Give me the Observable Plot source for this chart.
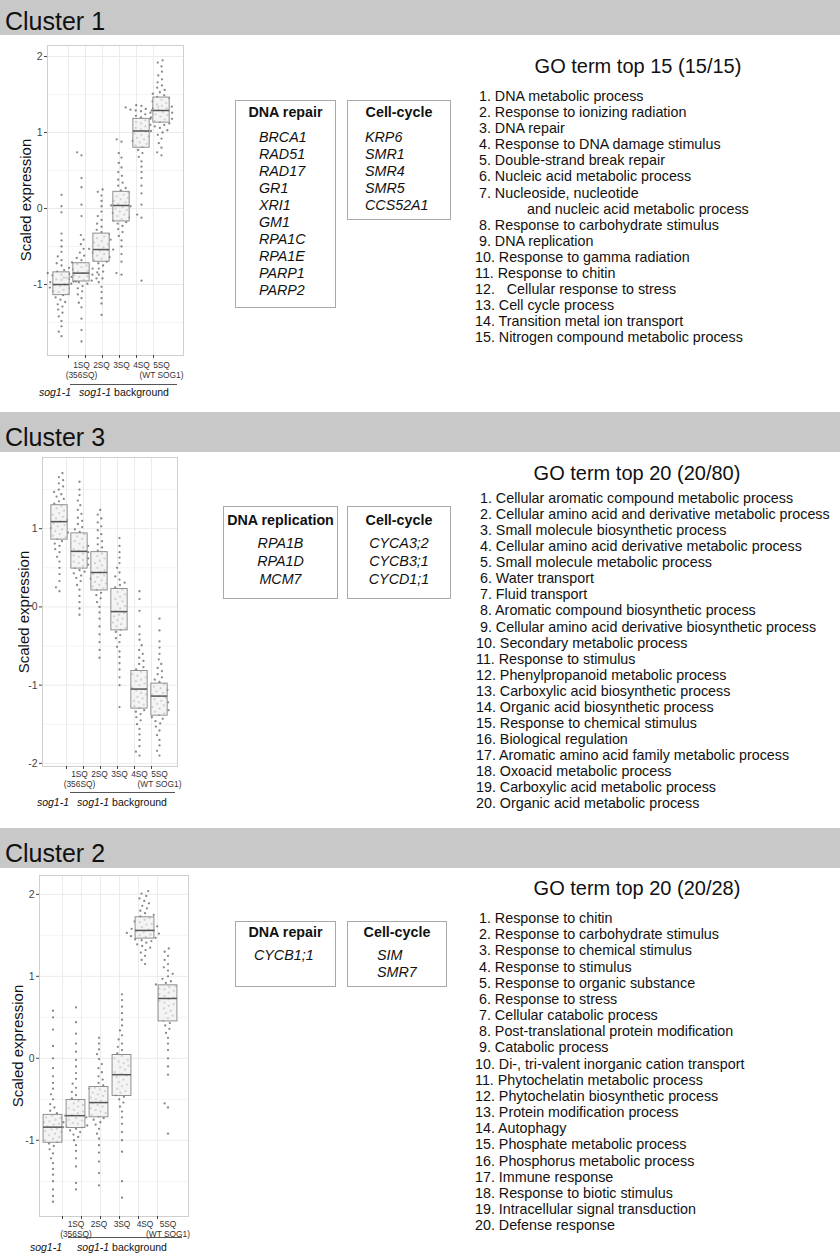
<!DOCTYPE html>
<html><head><meta charset="utf-8">
<script src="https://cdn.jsdelivr.net/npm/d3@7"></script>
<script src="https://cdn.jsdelivr.net/npm/@observablehq/plot@0.6"></script>
<style>
body{margin:0;background:#fff;font-family:"Liberation Sans",Arial,sans-serif;color:#111;}
#page{position:relative;width:840px;height:1260px;overflow:hidden;}
.hbar{position:absolute;left:0;width:840px;background:#c8c8c8;}
.hbar span{position:absolute;left:5px;font-size:25px;line-height:25px;color:#111;}
.abs{position:absolute;white-space:pre;}
.gbox{position:absolute;border:1px solid #a9a9a9;box-sizing:border-box;background:#fff;}
.ov{position:absolute;left:0;overflow:visible;}
</style></head>
<body><div id="page"></div>
<script>
// ---------------- data ----------------
const groups = ["sog1-1", "1SQ", "2SQ", "3SQ", "4SQ", "5SQ"];
const tickLabels = ["", "1SQ\n(356SQ)", "2SQ", "3SQ", "4SQ", "5SQ\n(WT SOG1)"];
const yTicks = [-2, -1, 0, 1, 2];
const yMinorTicks = [-1.5, -0.5, 0.5, 1.5];

// Cluster 1 box statistics (whisker low, Q1, median, Q3, whisker high)
const c1Low = [-1.55, -1.30, -1.18, -0.70, 0.25, 0.71];
const c1Q1 = [-1.14, -0.96, -0.70, -0.17, 0.80, 1.13];
const c1Median = [-1.00, -0.85, -0.54, 0.04, 1.02, 1.29];
const c1Q3 = [-0.84, -0.72, -0.33, 0.22, 1.18, 1.46];
const c1High = [-0.45, -0.35, 0.20, 0.75, 1.35, 1.85];
const c1Points = [
  [-1.68,-1.62,-1.55,-1.48,-1.42,-1.37,-1.33,-1.29,-1.26,-1.23,-1.2,-1.17,-1.14,-1.12,-1.1,-1.09,-1.07,-1.05,-1.04,-1.02,-1.01,-1.0,-0.99,-0.97,-0.96,-0.94,-0.93,-0.91,-0.9,-0.88,-0.87,-0.85,-0.83,-0.81,-0.78,-0.75,-0.72,-0.68,-0.63,-0.57,-0.5,-0.42,-0.33,-0.05,0.03,0.18],
  [-1.75,-1.6,-1.45,-1.3,-1.24,-1.18,-1.13,-1.09,-1.05,-1.02,-0.99,-0.97,-0.96,-0.95,-0.94,-0.93,-0.92,-0.91,-0.9,-0.89,-0.88,-0.87,-0.86,-0.85,-0.84,-0.83,-0.82,-0.8,-0.79,-0.77,-0.75,-0.73,-0.71,-0.68,-0.65,-0.62,-0.58,-0.53,-0.47,-0.41,-0.35,-0.1,0.05,0.28,0.4,0.7,0.74],
  [-1.4,-1.25,-1.18,-1.1,-1.03,-0.97,-0.92,-0.87,-0.83,-0.79,-0.75,-0.72,-0.7,-0.68,-0.66,-0.64,-0.62,-0.6,-0.58,-0.56,-0.55,-0.54,-0.53,-0.51,-0.49,-0.47,-0.45,-0.43,-0.41,-0.39,-0.37,-0.34,-0.31,-0.28,-0.24,-0.2,-0.15,-0.1,-0.04,0.03,0.1,0.17,0.22,0.25],
  [-0.87,-0.85,-0.7,-0.6,-0.5,-0.42,-0.36,-0.31,-0.27,-0.23,-0.2,-0.18,-0.16,-0.14,-0.12,-0.1,-0.08,-0.06,-0.04,-0.02,0.0,0.02,0.03,0.04,0.06,0.08,0.1,0.12,0.14,0.16,0.18,0.21,0.24,0.27,0.3,0.34,0.38,0.43,0.48,0.54,0.6,0.67,0.73,0.88,0.91],
  [-0.95,-0.12,-0.08,0.05,0.2,0.3,0.4,0.48,0.55,0.62,0.68,0.73,0.77,0.81,0.83,0.85,0.87,0.89,0.91,0.93,0.95,0.97,0.99,1.01,1.02,1.04,1.06,1.08,1.1,1.12,1.14,1.16,1.18,1.2,1.22,1.24,1.26,1.28,1.29,1.3,1.31,1.32,1.33,1.34,1.35,1.36],
  [0.7,0.74,0.8,0.86,0.92,0.97,1.0,1.03,1.06,1.08,1.1,1.12,1.14,1.15,1.17,1.18,1.2,1.21,1.23,1.24,1.26,1.27,1.29,1.3,1.32,1.34,1.35,1.37,1.39,1.41,1.43,1.45,1.47,1.49,1.51,1.53,1.56,1.59,1.62,1.66,1.7,1.75,1.8,1.87,1.92,1.95]
];

// Cluster 3
const c3Low = [0.22, -0.06, -0.49, -0.89, -1.85, -1.87];
const c3Q1 = [0.86, 0.49, 0.21, -0.30, -1.30, -1.39];
const c3Median = [1.09, 0.71, 0.44, -0.06, -1.05, -1.14];
const c3Q3 = [1.30, 0.94, 0.70, 0.23, -0.82, -0.98];
const c3High = [1.70, 1.59, 1.26, 0.89, -0.35, -0.40];
const c3Points = [
  [0.2,0.25,0.33,0.42,0.5,0.58,0.64,0.7,0.74,0.78,0.81,0.84,0.87,0.89,0.91,0.93,0.95,0.97,0.99,1.01,1.03,1.05,1.07,1.09,1.11,1.13,1.15,1.18,1.2,1.23,1.26,1.29,1.32,1.35,1.38,1.41,1.44,1.47,1.5,1.54,1.58,1.62,1.66,1.71],
  [-0.1,-0.02,0.06,0.14,0.22,0.28,0.33,0.37,0.4,0.43,0.45,0.47,0.5,0.52,0.54,0.56,0.58,0.6,0.62,0.64,0.66,0.68,0.7,0.72,0.74,0.76,0.78,0.81,0.84,0.87,0.9,0.93,0.96,0.99,1.02,1.06,1.1,1.14,1.19,1.24,1.3,1.36,1.43,1.5,1.6],
  [-0.65,-0.55,-0.45,-0.35,-0.25,-0.15,-0.07,0.0,0.06,0.11,0.15,0.18,0.22,0.24,0.26,0.28,0.3,0.32,0.34,0.36,0.38,0.4,0.42,0.44,0.47,0.5,0.53,0.56,0.59,0.62,0.65,0.68,0.72,0.76,0.8,0.84,0.88,0.93,0.98,1.03,1.08,1.13,1.18,1.24],
  [-1.28,-1.0,-0.9,-0.8,-0.72,-0.64,-0.57,-0.51,-0.45,-0.4,-0.36,-0.32,-0.29,-0.27,-0.25,-0.22,-0.2,-0.17,-0.15,-0.12,-0.1,-0.08,-0.05,-0.02,0.01,0.04,0.07,0.1,0.13,0.16,0.19,0.22,0.25,0.28,0.31,0.35,0.39,0.44,0.5,0.56,0.63,0.7,0.78,0.88],
  [-1.9,-1.85,-1.78,-1.7,-1.63,-1.56,-1.5,-1.45,-1.41,-1.37,-1.34,-1.32,-1.29,-1.27,-1.25,-1.22,-1.2,-1.17,-1.15,-1.12,-1.1,-1.07,-1.05,-1.03,-1.0,-0.98,-0.95,-0.93,-0.9,-0.88,-0.86,-0.83,-0.8,-0.77,-0.73,-0.69,-0.65,-0.6,-0.55,-0.49,-0.42,-0.35,-0.25,-0.05,0.1,0.2],
  [-1.9,-1.84,-1.77,-1.7,-1.64,-1.58,-1.53,-1.49,-1.46,-1.43,-1.41,-1.38,-1.36,-1.34,-1.32,-1.3,-1.28,-1.26,-1.24,-1.22,-1.2,-1.18,-1.16,-1.14,-1.12,-1.1,-1.08,-1.06,-1.04,-1.02,-0.99,-0.96,-0.93,-0.9,-0.86,-0.82,-0.78,-0.73,-0.67,-0.6,-0.52,-0.44,-0.3,-0.15]
];

// Cluster 2
const c2Low = [-1.50, -1.32, -1.26, -1.14, 1.16, -0.16];
const c2Q1 = [-1.03, -0.85, -0.72, -0.46, 1.46, 0.45];
const c2Median = [-0.84, -0.70, -0.54, -0.20, 1.56, 0.73];
const c2Q3 = [-0.69, -0.51, -0.35, 0.04, 1.72, 0.89];
const c2High = [-0.20, 0.00, 0.20, 0.75, 2.03, 1.34];
const c2Points = [
  [-1.75,-1.68,-1.6,-1.5,-1.42,-1.35,-1.28,-1.22,-1.16,-1.11,-1.07,-1.04,-1.02,-1.0,-0.98,-0.96,-0.94,-0.92,-0.9,-0.89,-0.87,-0.86,-0.84,-0.83,-0.81,-0.8,-0.78,-0.77,-0.75,-0.73,-0.72,-0.7,-0.67,-0.64,-0.6,-0.56,-0.5,-0.44,-0.37,-0.3,-0.22,-0.12,0.0,0.15,0.35,0.5,0.58],
  [-1.6,-1.52,-1.32,-1.22,-1.13,-1.06,-1.0,-0.96,-0.93,-0.9,-0.88,-0.86,-0.84,-0.83,-0.82,-0.8,-0.79,-0.78,-0.76,-0.75,-0.73,-0.72,-0.7,-0.69,-0.67,-0.65,-0.63,-0.61,-0.59,-0.57,-0.55,-0.52,-0.49,-0.45,-0.41,-0.36,-0.31,-0.25,-0.18,-0.1,-0.02,0.08,0.18,0.3,0.44,0.62],
  [-1.55,-1.4,-1.26,-1.15,-1.06,-0.98,-0.92,-0.86,-0.81,-0.78,-0.75,-0.73,-0.71,-0.69,-0.67,-0.65,-0.63,-0.61,-0.59,-0.57,-0.55,-0.54,-0.52,-0.5,-0.48,-0.46,-0.44,-0.42,-0.4,-0.38,-0.37,-0.36,-0.33,-0.3,-0.26,-0.22,-0.17,-0.12,-0.07,-0.01,0.05,0.11,0.18,0.25],
  [-1.7,-1.5,-1.14,-1.0,-0.9,-0.8,-0.72,-0.65,-0.59,-0.54,-0.5,-0.47,-0.45,-0.42,-0.4,-0.37,-0.34,-0.32,-0.29,-0.26,-0.23,-0.21,-0.19,-0.17,-0.14,-0.11,-0.09,-0.06,-0.04,-0.02,0.0,0.03,0.06,0.1,0.14,0.18,0.23,0.28,0.34,0.4,0.47,0.55,0.63,0.71,0.78],
  [1.15,1.2,1.25,1.29,1.32,1.35,1.37,1.39,1.41,1.43,1.44,1.45,1.47,1.48,1.49,1.5,1.51,1.52,1.53,1.54,1.55,1.56,1.57,1.58,1.6,1.61,1.63,1.64,1.66,1.67,1.69,1.71,1.73,1.75,1.77,1.8,1.83,1.86,1.89,1.92,1.95,1.98,2.01,2.04],
  [-0.92,-0.6,-0.55,-0.2,-0.1,0.0,0.1,0.18,0.25,0.31,0.36,0.4,0.43,0.46,0.49,0.52,0.55,0.58,0.61,0.64,0.66,0.68,0.7,0.72,0.74,0.76,0.78,0.8,0.82,0.84,0.85,0.87,0.88,0.9,0.92,0.94,0.97,1.0,1.03,1.07,1.11,1.15,1.2,1.25,1.3,1.34]
];

// Gene lists
const c1RepairGenes = ["BRCA1", "RAD51", "RAD17", "GR1", "XRI1", "GM1", "RPA1C", "RPA1E", "PARP1", "PARP2"];
const c1CycleGenes = ["KRP6", "SMR1", "SMR4", "SMR5", "CCS52A1"];
const c3ReplicationGenes = ["RPA1B", "RPA1D", "MCM7"];
const c3CycleGenes = ["CYCA3;2", "CYCB3;1", "CYCD1;1"];
const c2RepairGenes = ["CYCB1;1"];
const c2CycleGenes = ["SIM", "SMR7"];

// GO terms
const go1Title = "GO term top 15 (15/15)";
const go1Terms = [" 1. DNA metabolic process", " 2. Response to ionizing radiation", " 3. DNA repair",
  " 4. Response to DNA damage stimulus", " 5. Double-strand break repair", " 6. Nucleic acid metabolic process",
  " 7. Nucleoside, nucleotide\nand nucleic acid metabolic process", " 8. Response to carbohydrate stimulus",
  " 9. DNA replication", "10. Response to gamma radiation", "11. Response to chitin", "12.   Cellular response to stress",
  "13. Cell cycle process", "14. Transition metal ion transport", "15. Nitrogen compound metabolic process"];
const go3Title = "GO term top 20 (20/80)";
const go3Terms = [" 1. Cellular aromatic compound metabolic process", " 2. Cellular amino acid and derivative metabolic process",
  " 3. Small molecule biosynthetic process", " 4. Cellular amino acid derivative metabolic process",
  " 5. Small molecule metabolic process", " 6. Water transport", " 7. Fluid transport",
  " 8. Aromatic compound biosynthetic process", " 9. Cellular amino acid derivative biosynthetic process",
  "10. Secondary metabolic process", "11. Response to stimulus", "12. Phenylpropanoid metabolic process",
  "13. Carboxylic acid biosynthetic process", "14. Organic acid biosynthetic process", "15. Response to chemical stimulus",
  "16. Biological regulation", "17. Aromatic amino acid family metabolic process", "18. Oxoacid metabolic process",
  "19. Carboxylic acid metabolic process", "20. Organic acid metabolic process"];
const go2Title = "GO term top 20 (20/28)";
const go2Terms = [" 1. Response to chitin", " 2. Response to carbohydrate stimulus", " 3. Response to chemical stimulus",
  " 4. Response to stimulus", " 5. Response to organic substance", " 6. Response to stress", " 7. Cellular catabolic process",
  " 8. Post-translational protein modification", " 9. Catabolic process", "10. Di-, tri-valent inorganic cation transport",
  "11. Phytochelatin metabolic process", "12. Phytochelatin biosynthetic process", "13. Protein modification process",
  "14. Autophagy", "15. Phosphate metabolic process", "16. Phosphorus metabolic process", "17. Immune response",
  "18. Response to biotic stimulus", "19. Intracellular signal transduction", "20. Defense response"];

// ---------------- layout ----------------
const page = document.getElementById("page");
const FONT = '"Liberation Sans", Arial, sans-serif';

function el(tag, cls, css, text) {
  const e = document.createElement(tag);
  if (cls) e.className = cls;
  Object.assign(e.style, css || {});
  if (text != null) e.textContent = text;
  return e;
}

function header(top, h, label, base) {
  const b = el("div", "hbar", {top: top + "px", height: h + "px"});
  const s = el("span", null, {top: (base - top - 19) + "px"}, label);
  b.appendChild(s);
  page.appendChild(b);
}

function drawCluster(L, low, q1, med, q3, high, points) {
  const W = 200;
  const H = L.svgBottom - L.svgTop;
  const step = (L.c5 - L.c0) / 5;
  const inset = step * 0.09;
  const stats = groups.map((g, i) => ({g, lo: low[i], q1: q1[i], med: med[i], q3: q3[i], hi: high[i], label: tickLabels[i]}));
  const pts = groups.flatMap((g, i) => points[i].map(v => ({g, v})));
  const common = {
    width: W, height: H,
    marginTop: L.panelTop - L.svgTop, marginBottom: L.svgBottom - L.panelBottom,
    marginLeft: L.left, marginRight: W - L.right,
    style: {fontFamily: FONT, fontSize: "10.5px", background: "transparent", overflow: "visible", color: "#4d4d4d"}
  };
  const yt = yTicks.filter(t => t >= L.yDomain[0] && t <= L.yDomain[1]);
  const base = Plot.plot({
    ...common,
    x: {type: "point", domain: groups, range: [L.c0, L.c5], axis: null},
    y: {domain: L.yDomain, axis: null},
    marks: [
      Plot.gridY(yMinorTicks, {stroke: "#f4f4f4", strokeOpacity: 1}),
      Plot.gridY(yt, {stroke: "#ebebeb", strokeOpacity: 1}),
      Plot.gridX(groups, {stroke: "#ebebeb", strokeOpacity: 1}),
      Plot.frame({stroke: "#cfcfcf"}),
      Plot.axisY(yt, {tickSize: 3, tickPadding: 2, tickFormat: d => String(d), label: null, color: "#444"}),
      Plot.axisX(groups, {tickSize: 3, tickFormat: () => "", label: null, color: "#444"})
    ]
  });
  const over = Plot.plot({
    ...common,
    fx: {domain: groups, range: [L.c0 - step / 2, L.c5 + step / 2], padding: 0, axis: null, label: null},
    y: {domain: L.yDomain, axis: null},
    marks: [
      Plot.dot(pts, Plot.dodgeX({anchor: "middle", padding: 3.0}, {fx: "g", y: "v", r: 1.15, fill: "#333", fillOpacity: 0.58})),
      Plot.ruleX(stats, {fx: "g", y1: "lo", y2: "q1", stroke: "#8a8a8a", strokeWidth: 0.9}),
      Plot.ruleX(stats, {fx: "g", y1: "q3", y2: "hi", stroke: "#8a8a8a", strokeWidth: 0.9}),
      Plot.barY(stats, {fx: "g", y1: "q1", y2: "q3", fill: "#efefef", fillOpacity: 0.7, stroke: "#858585", strokeWidth: 0.9, insetLeft: inset, insetRight: inset}),
      Plot.ruleY(stats, {fx: "g", y: "med", stroke: "#555", strokeWidth: 1.5, insetLeft: inset, insetRight: inset}),
      Plot.text(stats, {fx: "g", text: "label", frameAnchor: "bottom", lineAnchor: "top", dy: L.labelDy, fontSize: 8.4, lineHeight: 1.2, fill: "#333"})
    ]
  });
  for (const svg of [base, over]) {
    svg.classList.add("ov");
    svg.style.top = L.svgTop + "px";
    svg.style.position = "absolute";
    page.appendChild(svg);
  }
  // y axis title
  const yc = (L.panelTop + L.panelBottom) / 2;
  const t = el("div", "abs", {left: (L.titleX - 70) + "px", top: (yc - 9) + "px", width: "140px", textAlign: "center",
    fontSize: "15px", lineHeight: "18px", transform: "rotate(-90deg)", color: "#111"}, "Scaled expression");
  page.appendChild(t);
  // genotype annotations
  page.appendChild(el("div", "abs", {left: (L.sogX - 40) + "px", top: (L.sogY - 6) + "px", width: "80px", textAlign: "center",
    fontSize: "10.5px", lineHeight: "12px", fontStyle: "italic"}, "sog1-1"));
  page.appendChild(el("div", null, {position: "absolute", left: L.lineX1 + "px", top: L.lineY + "px",
    width: (L.lineX2 - L.lineX1) + "px", height: "1px", background: "#555"}));
  const bg = el("div", "abs", {left: (L.bgX - 60) + "px", top: (L.sogY - 6) + "px", width: "120px", textAlign: "center",
    fontSize: "10.5px", lineHeight: "12px"});
  bg.innerHTML = "<i>sog1-1</i> background";
  page.appendChild(bg);
}

function geneBox(B, title, genes) {
  const fs = 14.3, lh = 17, off = 13.5;
  const box = el("div", "gbox", {left: B.x + "px", top: B.y + "px", width: B.w + "px", height: B.h + "px"});
  page.appendChild(box);
  page.appendChild(el("div", "abs", {left: B.x + "px", width: B.w + "px", top: (B.titleBase - off) + "px", textAlign: "center",
    fontSize: fs + "px", lineHeight: lh + "px", fontWeight: "bold"}, title));
  genes.forEach((g, i) => {
    const css = {top: (B.geneBase + i * B.gap - off) + "px", fontSize: fs + "px", lineHeight: lh + "px", fontStyle: "italic"};
    if (B.center) { css.left = B.x + "px"; css.width = B.w + "px"; css.textAlign = "center"; }
    else { css.left = (B.x + B.pad) + "px"; }
    page.appendChild(el("div", "abs", css, g));
  });
}

function goList(G, title, terms) {
  page.appendChild(el("div", "abs", {left: (G.cx - 150) + "px", width: "300px", textAlign: "center",
    top: (G.titleBase - 18) + "px", fontSize: "20px", lineHeight: "22px"}, title));
  let line = 0;
  terms.forEach(term => {
    term.split("\n").forEach((part, j) => {
      page.appendChild(el("div", "abs", {left: (G.x + (j ? 52 : 0)) + "px", top: (G.firstBase + line * G.gap - 12.9) + "px",
        fontSize: "14.3px", lineHeight: "16px"}, part));
      line++;
    });
  });
}

// headers
header(0, 35, "Cluster 1", 28);
header(412, 40, "Cluster 3", 444);
header(828, 40, "Cluster 2", 860);

// Cluster 1
drawCluster({svgTop: 38, svgBottom: 400, panelTop: 45, panelBottom: 355, left: 47, right: 183, c0: 59, c5: 162,
  yDomain: [-1.934, 2.145], labelDy: 5, titleX: 26, sogX: 55, sogY: 392, lineY: 384, lineX1: 70, lineX2: 177, bgX: 124},
  c1Low, c1Q1, c1Median, c1Q3, c1High, c1Points);
geneBox({x: 235, y: 100, w: 101, h: 208, titleBase: 117, geneBase: 142, gap: 17, pad: 24}, "DNA repair", c1RepairGenes);
geneBox({x: 347, y: 100, w: 104, h: 120, titleBase: 117, geneBase: 142, gap: 17, pad: 18}, "Cell-cycle", c1CycleGenes);
goList({cx: 638, x: 475, titleBase: 73, firstBase: 101, gap: 16.07}, go1Title, go1Terms);

// Cluster 3
drawCluster({svgTop: 452, svgBottom: 815, panelTop: 457, panelBottom: 766, left: 42, right: 177, c0: 57, c5: 160,
  yDomain: [-2.04, 1.91], labelDy: 3, titleX: 24, sogX: 53, sogY: 802, lineY: 792, lineX1: 70, lineX2: 175, bgX: 122},
  c3Low, c3Q1, c3Median, c3Q3, c3High, c3Points);
geneBox({x: 223, y: 506, w: 115, h: 93, titleBase: 525, geneBase: 548, gap: 18, center: true}, "DNA replication", c3ReplicationGenes);
geneBox({x: 347, y: 506, w: 104, h: 93, titleBase: 525, geneBase: 548, gap: 18, center: true}, "Cell-cycle", c3CycleGenes);
goList({cx: 637, x: 476, titleBase: 480, firstBase: 503, gap: 16.05}, go3Title, go3Terms);

// Cluster 2
drawCluster({svgTop: 868, svgBottom: 1260, panelTop: 875, panelBottom: 1216, left: 39, right: 188, c0: 52, c5: 167,
  yDomain: [-1.93, 2.23], labelDy: 3, titleX: 18, sogX: 46, sogY: 1247, lineY: 1237, lineX1: 68, lineX2: 182, bgX: 122},
  c2Low, c2Q1, c2Median, c2Q3, c2High, c2Points);
geneBox({x: 235, y: 921, w: 101, h: 66, titleBase: 937, geneBase: 960, gap: 17, pad: 19}, "DNA repair", c2RepairGenes);
geneBox({x: 347, y: 921, w: 100, h: 66, titleBase: 937, geneBase: 960, gap: 17, pad: 30}, "Cell-cycle", c2CycleGenes);
goList({cx: 637, x: 475, titleBase: 895, firstBase: 923, gap: 16.16}, go2Title, go2Terms);
</script>
</body></html>
